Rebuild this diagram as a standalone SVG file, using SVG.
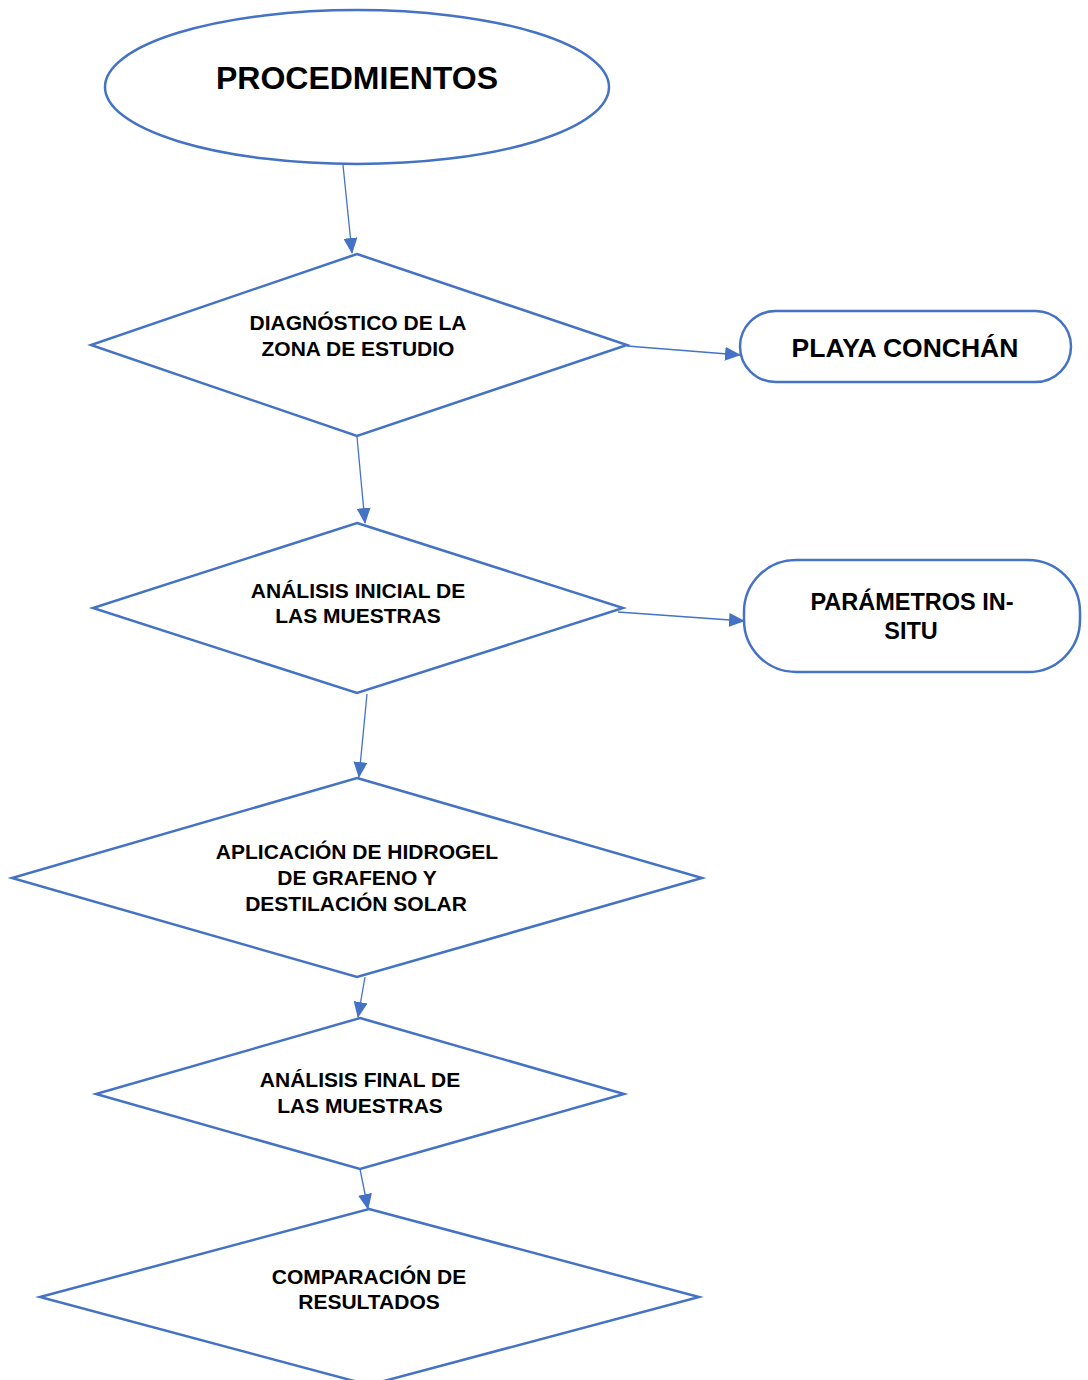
<svg xmlns="http://www.w3.org/2000/svg" width="1088" height="1380" viewBox="0 0 1088 1380">
<style>
.shape{fill:#ffffff;stroke:#4472C4;stroke-width:2.5}
.conn{fill:none;stroke:#4472C4;stroke-width:1.3}
.t{font-family:"Liberation Sans",Arial,sans-serif;font-weight:bold;fill:#000;text-anchor:middle}
.s21{font-size:21px}
</style>
<defs>
<marker id="ah" markerUnits="userSpaceOnUse" markerWidth="16" markerHeight="14" refX="15" refY="7" orient="auto">
<path d="M0,0 L16,7 L0,14 Z" fill="#4472C4"/>
</marker>
</defs>
<rect width="1088" height="1380" fill="#ffffff"/>
<g id="connectors">
<line class="conn" x1="343" y1="165" x2="352" y2="253" marker-end="url(#ah)"/>
<line class="conn" x1="627" y1="346" x2="740" y2="355" marker-end="url(#ah)"/>
<line class="conn" x1="357" y1="437" x2="365" y2="523" marker-end="url(#ah)"/>
<line class="conn" x1="618" y1="612" x2="744" y2="621" marker-end="url(#ah)"/>
<line class="conn" x1="367" y1="694" x2="359" y2="777" marker-end="url(#ah)"/>
<line class="conn" x1="365" y1="977" x2="358" y2="1017" marker-end="url(#ah)"/>
<line class="conn" x1="360" y1="1169" x2="368" y2="1209" marker-end="url(#ah)"/>
</g>
<g id="n-procedimientos">
<ellipse class="shape" cx="357" cy="87" rx="252" ry="77"/>
<text class="t" x="357" y="89" font-size="32">PROCEDMIENTOS</text>
</g>
<g id="n-diagnostico">
<polygon class="shape" points="357,254 627,345 357,436 91,345"/>
<text class="t s21" x="358" y="330">DIAGNÓSTICO DE LA</text>
<text class="t s21" x="358" y="356">ZONA DE ESTUDIO</text>
</g>
<g id="n-playa">
<rect class="shape" x="740" y="311" width="331" height="71" rx="35.5"/>
<text class="t" x="905" y="357" font-size="26.5">PLAYA CONCHÁN</text>
</g>
<g id="n-analisis-inicial">
<polygon class="shape" points="357,523 623,608 357,693 93,608"/>
<text class="t s21" x="358" y="598">ANÁLISIS INICIAL DE</text>
<text class="t s21" x="358" y="623">LAS MUESTRAS</text>
</g>
<g id="n-parametros">
<rect class="shape" x="744" y="560" width="336" height="112" rx="52"/>
<text class="t" x="912" y="610" font-size="23.5">PARÁMETROS IN-</text>
<text class="t" x="911" y="639" font-size="23.5">SITU</text>
</g>
<g id="n-aplicacion">
<polygon class="shape" points="357,778 702,878 357,977 12,878"/>
<text class="t s21" x="357" y="859">APLICACIÓN DE HIDROGEL</text>
<text class="t s21" x="357" y="885">DE GRAFENO Y</text>
<text class="t s21" x="356" y="911">DESTILACIÓN SOLAR</text>
</g>
<g id="n-analisis-final">
<polygon class="shape" points="360,1018 624,1094 360,1169 96,1094"/>
<text class="t s21" x="360" y="1087">ANÁLISIS FINAL DE</text>
<text class="t s21" x="360" y="1113">LAS MUESTRAS</text>
</g>
<g id="n-comparacion">
<polygon class="shape" points="369,1209 699,1297 369,1385 40,1297"/>
<text class="t s21" x="369" y="1284">COMPARACIÓN DE</text>
<text class="t s21" x="369" y="1309">RESULTADOS</text>
</g>
</svg>
